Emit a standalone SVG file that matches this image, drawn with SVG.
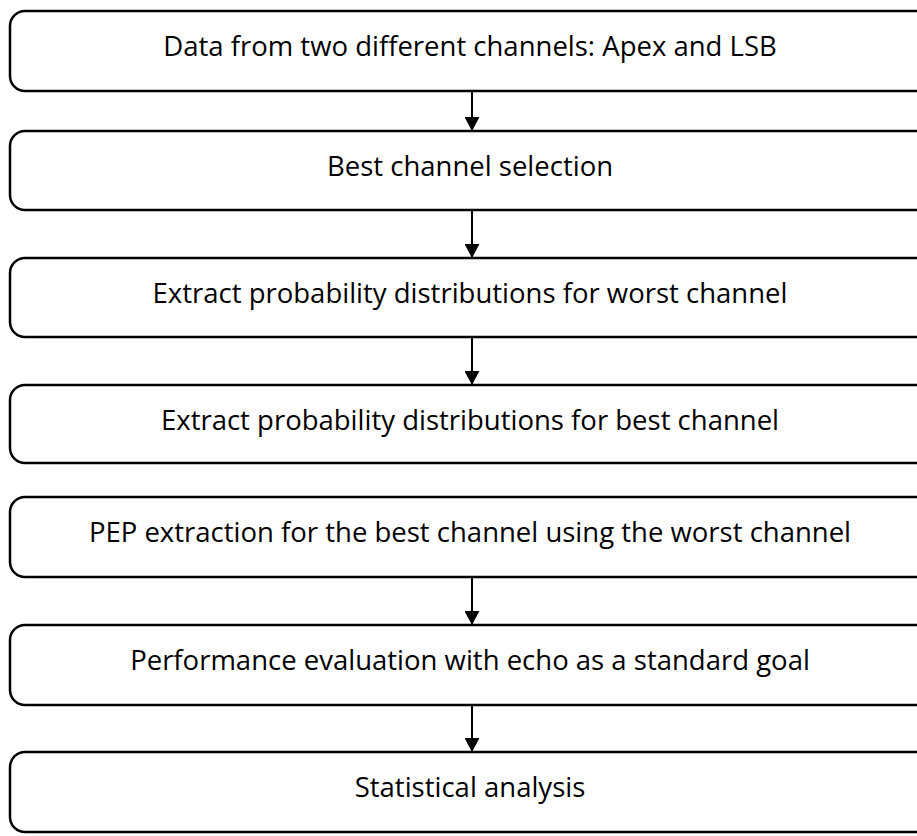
<svg xmlns="http://www.w3.org/2000/svg" width="917" height="836" viewBox="0 0 917 836">
  <style>
    .box { fill: #ffffff; stroke: #000000; stroke-width: 2.5; }
    .label { font-family: "Open Sans", "Liberation Sans", Arial, sans-serif; font-size: 27.5px; fill: #000000; text-anchor: middle; }
    .arrow { stroke: #000000; stroke-width: 2; fill: none; }
  </style>
  <defs>
    <marker id="head" viewBox="0 0 14 15" refX="14" refY="7.5" markerWidth="14" markerHeight="15" markerUnits="userSpaceOnUse" orient="auto">
      <path d="M0,0 L14,7.5 L0,15 Z" fill="#000000"/>
    </marker>
  </defs>
  <rect width="917" height="836" fill="#ffffff"/>

  <g id="connectors">
    <line class="arrow" x1="472" y1="91" x2="472" y2="131" marker-end="url(#head)"/>
    <line class="arrow" x1="472" y1="210" x2="472" y2="258" marker-end="url(#head)"/>
    <line class="arrow" x1="472" y1="337" x2="472" y2="385" marker-end="url(#head)"/>
    <line class="arrow" x1="472" y1="577" x2="472" y2="625" marker-end="url(#head)"/>
    <line class="arrow" x1="472" y1="705" x2="472" y2="752" marker-end="url(#head)"/>
  </g>

  <g id="node-data">
    <rect class="box" x="10" y="11" width="924" height="80" rx="15"/>
    <text class="label" x="470" y="56">Data from two different channels: Apex and LSB</text>
  </g>
  <g id="node-best-channel">
    <rect class="box" x="10" y="131" width="924" height="79" rx="15"/>
    <text class="label" x="470" y="176">Best channel selection</text>
  </g>
  <g id="node-worst-dist">
    <rect class="box" x="10" y="258" width="924" height="79" rx="15"/>
    <text class="label" x="470" y="303">Extract probability distributions for worst channel</text>
  </g>
  <g id="node-best-dist">
    <rect class="box" x="10" y="385" width="924" height="78" rx="15"/>
    <text class="label" x="470" y="430">Extract probability distributions for best channel</text>
  </g>
  <g id="node-pep">
    <rect class="box" x="10" y="497" width="924" height="80" rx="15"/>
    <text class="label" x="470" y="542">PEP extraction for the best channel using the worst channel</text>
  </g>
  <g id="node-performance">
    <rect class="box" x="10" y="625" width="924" height="80" rx="15"/>
    <text class="label" x="470" y="670">Performance evaluation with echo as a standard goal</text>
  </g>
  <g id="node-statistics">
    <rect class="box" x="10" y="752" width="924" height="80" rx="15"/>
    <text class="label" x="470" y="797">Statistical analysis</text>
  </g>
</svg>
